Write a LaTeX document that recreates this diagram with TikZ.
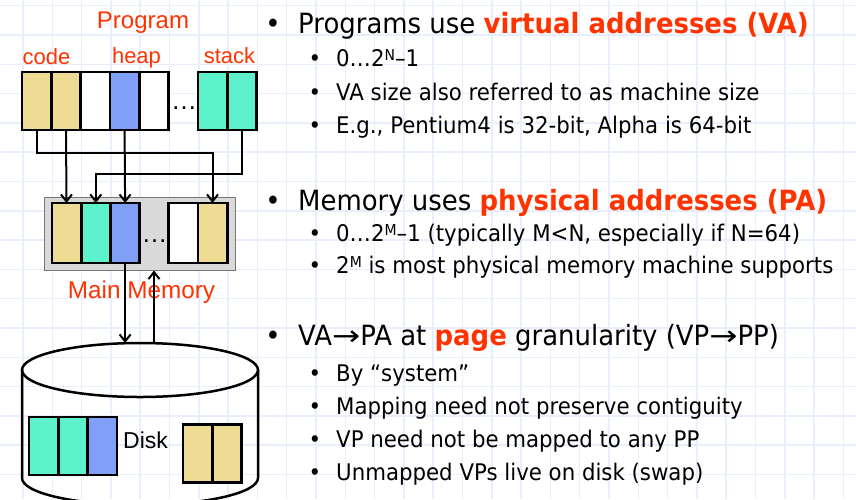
\documentclass[tikz,border=0pt]{standalone}
\usepackage{fontspec}
\setmainfont{DejaVu Sans}[FakeStretch=0.93]
\newfontfamily\labfont{Liberation Sans}
\usetikzlibrary{arrows.meta}
\definecolor{ctan}{RGB}{238,220,148}
\definecolor{cteal}{RGB}{94,242,204}
\definecolor{cblue}{RGB}{128,160,248}
\definecolor{cred}{RGB}{255,51,0}
\definecolor{cgrid}{RGB}{232,238,252}
\definecolor{cgray}{RGB}{217,217,217}
\definecolor{cgrayline}{RGB}{120,120,120}
\newcommand{\supx}[1]{\raisebox{5.5pt}{\fontsize{15}{15}\selectfont #1}}
\newcommand{\rarr}{\scalebox{1.3}[1]{→}}
\tikzset{
  cell/.style={draw=black, line width=2.7pt, minimum width=29.3pt, minimum height=58pt, inner sep=0pt, outer sep=0pt},
  cellm/.style={cell, minimum height=60pt},
  conn/.style={line width=2pt, draw=black},
  arr/.style={conn, -{Straight Barb[length=7pt,width=11pt]}},
  diskline/.style={line width=2.5pt, draw=black},
  lab/.style={anchor=base, inner sep=0pt, text=cred},
  mainT/.style={anchor=base west, inner sep=0pt, font=\fontsize{27.9}{30}\selectfont},
  subT/.style={anchor=base west, inner sep=0pt, font=\fontsize{22.9}{26}\selectfont},
  mainB/.style={anchor=base, inner sep=0pt, font=\fontsize{27.9}{30}\selectfont},
  subB/.style={anchor=base, inner sep=0pt, font=\fontsize{22.9}{26}\selectfont},
  gridline/.style={draw=cgrid, line width=1.5pt},
}
\begin{document}
\begin{tikzpicture}[x=1pt,y=-1pt]
\useasboundingbox (0,0) rectangle (856,499);
\fill[white] (0,0) rectangle (856,499);
% grid
\foreach \k in {1,...,29} {\draw[gridline] ({-6.3+29.3*\k},0) -- ({-6.3+29.3*\k},499);}
\foreach \k in {0,...,16} {\draw[gridline] (0,{5.7+29.3*\k}) -- (856,{5.7+29.3*\k});}

% labels of program
\node[lab, font=\labfont\fontsize{24}{24}\selectfont] (prog) at (143,28) {Program};
\node[lab, font=\labfont\fontsize{22}{22}\selectfont] (code) at (46.5,64) {code};
\node[lab, font=\labfont\fontsize{22}{22}\selectfont] (heap) at (136.5,63) {heap};
\node[lab, font=\labfont\fontsize{22}{22}\selectfont] (stack) at (229.5,63) {stack};

% program cells
\node[cell, fill=ctan] (p1) at (36.7,101) {};
\node[cell, fill=ctan] (p2) at (66,101) {};
\node[cell, fill=white] (p3) at (95.3,101) {};
\node[cell, fill=cblue] (p4) at (124.6,101) {};
\node[cell, fill=white] (p5) at (153.9,101) {};
\node[cell, fill=cteal] (p6) at (212.7,101) {};
\node[cell, fill=cteal] (p7) at (242,101) {};
\node[anchor=base, inner sep=0pt, font=\labfont\fontsize{26}{26}\selectfont] (pdots) at (184,109.5) {…};

% main memory
\node[draw=cgrayline, fill=cgray, line width=1pt, minimum width=191pt, minimum height=73pt, inner sep=0pt] (mem) at (139.5,233.5) {};
\node[cellm, fill=ctan] (m1) at (66.5,233) {};
\node[cellm, fill=cteal] (m2) at (95.8,233) {};
\node[cellm, fill=cblue] (m3) at (125.1,233) {};
\node[cellm, fill=white] (m4) at (183.2,233) {};
\node[cellm, fill=ctan] (m5) at (212.5,233) {};
\node[anchor=base, inner sep=0pt, font=\labfont\fontsize{26}{26}\selectfont] (mdots) at (154.5,242.5) {…};
\node[lab, font=\labfont\fontsize{24.3}{24}\selectfont] (mmlab) at (141.5,298) {Main Memory};

% connectors program -> memory
\coordinate (j1) at (36.7,153);
\coordinate (j2) at (242,174);
\draw[arr] (p1.south) -- (j1) -| (m5.north);
\draw[arr] (p2.south) -- (m1.north);
\draw[arr] (p4.south) -- (m3.north);
\draw[arr] (p7.south) -- (j2) -| (m2.north);

% disk
\draw[diskline] (140,370) ellipse [x radius=118pt, y radius=27pt];
\draw[diskline] (22,370) -- (22,478) arc[start angle=180, end angle=360, x radius=118pt, y radius=27pt] -- (258,370);
\coordinate (dtop) at (140,343);
\coordinate (up) at (154,343);
\draw[arr] (m3.south) -- (m3.south |- dtop);
\draw[arr] (up) -- (up |- mem.south);

\node[cell, fill=cteal] (d1) at (43.7,446) {};
\node[cell, fill=cteal] (d2) at (73,446) {};
\node[cell, fill=cblue] (d3) at (102.3,446) {};
\node[cell, fill=ctan] (e1) at (197.7,453.5) {};
\node[cell, fill=ctan] (e2) at (227,453.5) {};
\node[anchor=base west, inner sep=0pt, font=\labfont\fontsize{23}{23}\selectfont] (disklab) at (123,448) {Disk};

% right text
\node[mainB] (b1) at (273,33) {•};
\node[mainT] (t1) at (298,33) {Programs use {\bfseries\color{cred}virtual addresses (VA)}};
\node[subB] (b11) at (315,66) {•};
\node[subT] (t11) at (336,66) {0…2\supx{N}–1};
\node[subB] (b12) at (315,100) {•};
\node[subT] (t12) at (336,100) {VA size also referred to as machine size};
\node[subB] (b13) at (315,133) {•};
\node[subT] (t13) at (336,133) {E.g., Pentium4 is 32-bit, Alpha is 64-bit};

\node[mainB] (b2) at (273,210) {•};
\node[mainT] (t2) at (298,210) {Memory uses {\bfseries\color{cred}physical addresses (PA)}};
\node[subB] (b21) at (315,241) {•};
\node[subT] (t21) at (336,241) {0…2\supx{M}–1 (typically M<N, especially if N=64)};
\node[subB] (b22) at (315,273) {•};
\node[subT] (t22) at (336,273) {2\supx{M} is most physical memory machine supports};

\node[mainB] (b3) at (273,345) {•};
\node[mainT] (t3) at (298,345) {VA\rarr PA at {\bfseries\color{cred}page} granularity (VP\rarr PP)};
\node[subB] (b31) at (315,381) {•};
\node[subT] (t31) at (336,381) {By “system”};
\node[subB] (b32) at (315,414) {•};
\node[subT] (t32) at (336,414) {Mapping need not preserve contiguity};
\node[subB] (b33) at (315,447) {•};
\node[subT] (t33) at (336,447) {VP need not be mapped to any PP};
\node[subB] (b34) at (315,480) {•};
\node[subT] (t34) at (336,480) {Unmapped VPs live on disk (swap)};
\end{tikzpicture}
\end{document}
